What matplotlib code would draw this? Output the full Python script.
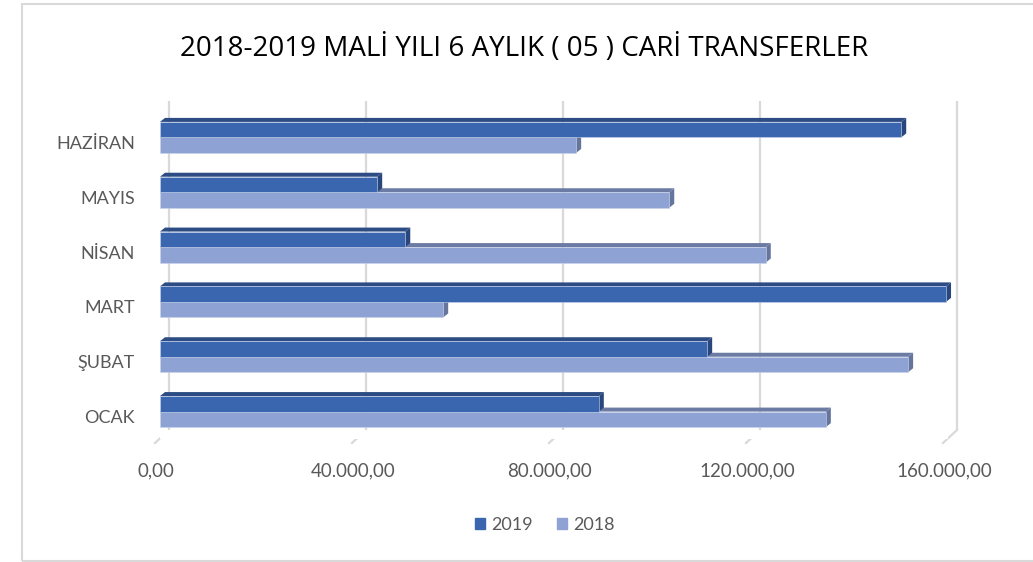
import matplotlib.pyplot as plt
import matplotlib.transforms as mtransforms
from matplotlib.patches import Polygon, Rectangle, Patch

#%% Data
months = ['OCAK', 'ŞUBAT', 'MART', 'NİSAN', 'MAYIS', 'HAZİRAN']
vals_2019 = [89100, 111100, 159600, 49800, 44100, 150500]
vals_2018 = [135200, 151900, 57500, 123000, 103400, 84500]
xticks = [0, 40000, 80000, 120000, 160000]
xtick_labels = ['0,00', '40.000,00', '80.000,00', '120.000,00', '160.000,00']
title = '2018-2019 MALİ YILI 6 AYLIK ( 05 ) CARİ TRANSFERLER'

#%% Styling
W, H = 1033, 562
c19 = {'front': '#3A66AF', 'top': '#2D4C84', 'side': '#29477C'}
c18 = {'front': '#8FA2D4', 'top': '#6B7BA3', 'side': '#65759C'}
grid_c = '#D9D9D9'
text_c = '#595959'
lab_font = ['Lato', 'DejaVu Sans']
bar_h = 0.283
depth_px = (5, 4)  # bar depth, pixels (right, up)

fig = plt.figure(figsize=(W / 100, H / 100), dpi=100)
ax = fig.add_axes([160 / W, (H - 439) / H, 788 / W, 329 / H])
ax.set_xlim(0, 160000)
ax.set_ylim(-0.5, 5.5)
for s in ax.spines.values():
    s.set_visible(False)

# pixel -> data units
dxd = depth_px[0] * 160000 / 788
dyd = depth_px[1] * 6 / 329

def px(dx, dy):
    return mtransforms.ScaledTranslation(dx / 100, dy / 100, fig.dpi_scale_trans)

#%% gridlines (back wall + floor)
for x in xticks:
    ax.plot([x, x], [-0.5, 5.5], color=grid_c, lw=1.6, zorder=0,
            transform=ax.transData + px(9, 9), clip_on=False, solid_capstyle='butt')
    p_back = (ax.transData + px(9, 9)).transform((x, -0.5))
    p_front = (ax.transData + px(-5, -4)).transform((x, -0.5))
    fig.add_artist(plt.Line2D([p_back[0] / W, p_front[0] / W], [p_back[1] / H, p_front[1] / H],
                              color=grid_c, lw=1.6, transform=fig.transFigure, zorder=0))

#%% 3D bars
def bars3d(vals, base, cols, z):
    ys = [i + base for i in range(len(vals))]
    ax.barh(ys, vals, height=bar_h, align='edge', color=cols['front'],
            edgecolor='#C9D3EC', linewidth=0.4, zorder=z + 0.2)
    for y0, v in zip(ys, vals):
        top = [(0, y0 + bar_h), (v, y0 + bar_h), (v + dxd, y0 + bar_h + dyd), (dxd, y0 + bar_h + dyd)]
        side = [(v, y0), (v + dxd, y0 + dyd), (v + dxd, y0 + bar_h + dyd), (v, y0 + bar_h)]
        ax.add_patch(Polygon(top, closed=True, fc=cols['top'], ec='none', zorder=z, clip_on=False))
        ax.add_patch(Polygon(side, closed=True, fc=cols['side'], ec='none', zorder=z + 0.1, clip_on=False))

bars3d(vals_2018, -bar_h, c18, 2)
bars3d(vals_2019, 0.0, c19, 3)

#%% Axes labels
ax.set_xticks(xticks, xtick_labels)
ax.set_yticks(range(len(months)), months)
ax.tick_params(axis='both', length=0, labelcolor=text_c)
ax.tick_params(axis='x', pad=17, labelsize=13.5)
ax.tick_params(axis='y', pad=18, labelsize=13)
for lab in ax.get_xticklabels():
    lab.set_fontfamily(lab_font)
    lab.set_transform(lab.get_transform() + px(-4, 0))
for lab in ax.get_yticklabels():
    lab.set_fontfamily(lab_font)
    lab.set_transform(lab.get_transform() + px(0, -5))

#%% Title
fig.text(524 / W, 1 - 49 / H, title, ha='center', va='center', fontsize=20,
         color='black', family=['Open Sans', 'DejaVu Sans'])

#%% Legend
handles = [Patch(color=c19['front'], label='2019'), Patch(color=c18['front'], label='2018')]
fig.legend(handles=handles, loc='center', bbox_to_anchor=(545 / W, 1 - 525 / H), ncol=2,
           frameon=False, handlelength=0.55, handleheight=0.55, handletextpad=0.35,
           columnspacing=1.3, prop={'family': lab_font, 'size': 13}, labelcolor=text_c)

#%% Border
fig.add_artist(Rectangle((22 / W, 1 / H), 1.2, (557) / H, transform=fig.transFigure,
                         fill=False, ec=grid_c, lw=1.5, clip_on=False))

fig.savefig('out.png', dpi=100)
